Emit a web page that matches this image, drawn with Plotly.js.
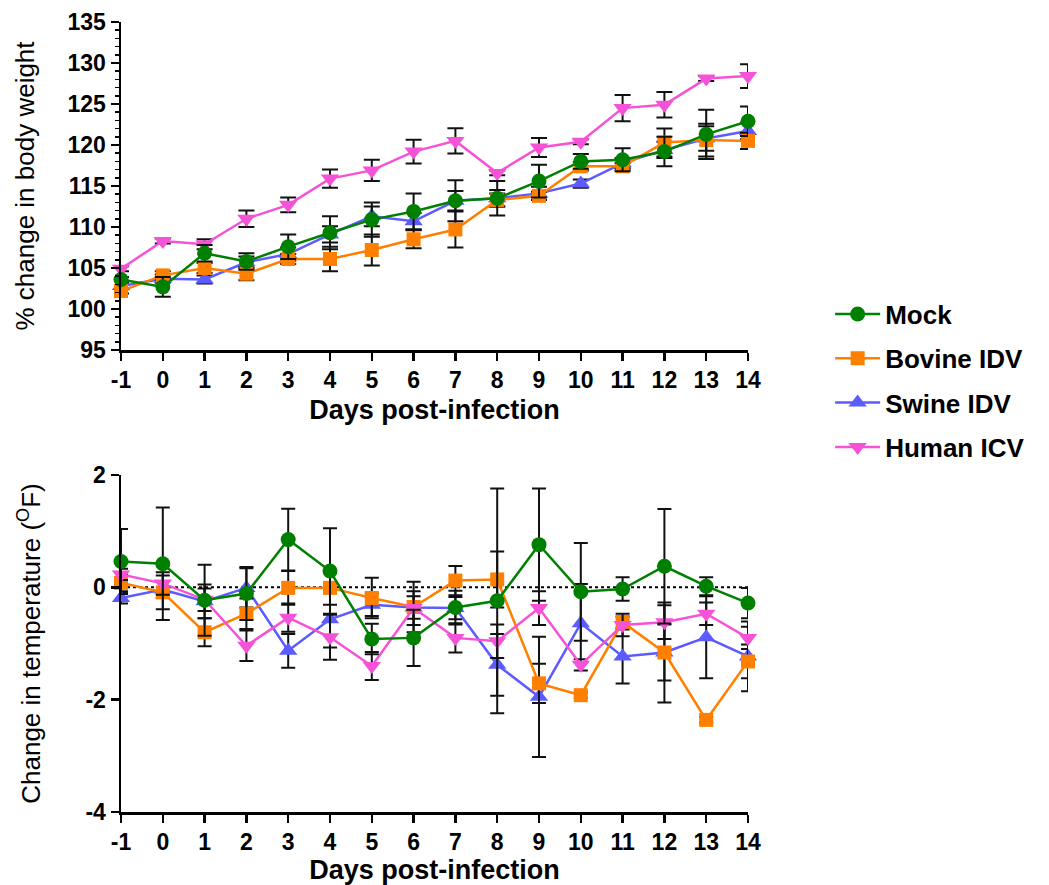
<!DOCTYPE html>
<html>
<head>
<meta charset="utf-8">
<script src="https://cdn.plot.ly/plotly-3.0.1.min.js"></script>
<style>html,body{margin:0;padding:0;background:#fff;}#chart{width:1049px;height:885px;}</style>
</head>
<body>
<div id="chart"></div>
<script>
// ---------- data ----------
const days = [-1, 0, 1, 2, 3, 4, 5, 6, 7, 8, 9, 10, 11, 12, 13, 14];
const seriesNames = ["Mock", "Bovine IDV", "Swine IDV", "Human ICV"];

// % change in body weight
const weightMock   = [103.6, 102.7, 106.8, 105.8, 107.6, 109.3, 110.9, 111.9, 113.2, 113.5, 115.6, 118.0, 118.2, 119.2, 121.3, 122.9];
const weightMockErr= [0.3, 1.2, 1.0, 1.0, 1.5, 2.0, 2.1, 2.2, 2.5, 2.1, 2.0, 0.9, 1.4, 1.8, 3.0, 1.8];
const weightBov    = [102.2, 104.1, 105.0, 104.3, 106.1, 106.1, 107.2, 108.5, 109.7, 113.3, 113.8, 117.4, 117.4, 120.3, 120.6, 120.5];
const weightBovErr = [0.3, 0.5, 0.6, 0.8, 0.6, 1.5, 1.9, 1.1, 2.2, 0.8, 0.5, 0.5, 0.4, 1.7, 2.0, 1.0];
const weightSw     = [102.8, 103.7, 103.6, 105.7, 106.7, 109.1, 111.3, 110.7, 113.2, 113.5, 114.1, 115.3, 117.8, 119.4, 120.8, 121.7];
const weightSwErr  = [0.4, 0.5, 0.5, 0.7, 0.8, 1.0, 1.2, 1.0, 1.2, 1.0, 0.8, 0.5, 0.6, 1.0, 1.5, 1.0];
const weightHum    = [104.9, 108.3, 107.9, 111.0, 112.7, 115.9, 116.9, 119.2, 120.5, 116.6, 119.7, 120.4, 124.5, 124.9, 128.1, 128.4];
const weightHumErr = [0.3, 0.3, 0.6, 1.0, 0.9, 1.1, 1.3, 1.45, 1.55, 0.3, 1.15, 0.3, 1.6, 1.55, 0.3, 1.45];

// change in temperature (F)
const tempMock   = [0.46, 0.42, -0.23, -0.11, 0.85, 0.29, -0.92, -0.90, -0.36, -0.24, 0.76, -0.08, -0.03, 0.375, 0.02, -0.28];
const tempMockErr= [0.58, 1.0, 0.63, 0.47, 0.55, 0.76, 0.27, 0.5, 0.3, 2.0, 1.0, 0.87, 0.21, 1.02, 0.16, 0.27];
const tempBov    = [0.08, -0.09, -0.80, -0.47, -0.01, -0.01, -0.19, -0.35, 0.12, 0.14, -1.71, -1.92, -0.62, -1.16, -2.36, -1.32];
const tempBovErr = [0.15, 0.3, 0.25, 0.27, 0.3, 0.3, 0.36, 0.45, 0.26, 0.5, 0.35, 0.05, 0.1, 0.89, 0.05, 0.3];
const tempSw     = [-0.19, -0.04, -0.25, -0.01, -1.13, -0.57, -0.31, -0.36, -0.37, -1.38, -1.95, -0.64, -1.23, -1.16, -0.89, -1.23];
const tempSwErr  = [0.1, 0.15, 0.3, 0.35, 0.3, 0.5, 0.2, 0.2, 0.2, 0.55, 1.07, 0.7, 0.48, 0.5, 0.73, 0.62];
const tempHum    = [0.23, 0.07, -0.22, -1.04, -0.54, -0.89, -1.40, -0.37, -0.90, -0.96, -0.37, -1.38, -0.67, -0.62, -0.47, -0.90];
const tempHumErr = [0.1, 0.2, 0.2, 0.27, 0.25, 0.4, 0.25, 0.3, 0.26, 0.3, 0.3, 0.1, 0.2, 0.3, 0.2, 0.2];

const xTickVals = days;
const weightTicks = [95, 100, 105, 110, 115, 120, 125, 130, 135];
const tempTicks = [-4, -2, 0, 2];

// ---------- styles ----------
const FONT = "Liberation Sans, Arial, Helvetica, sans-serif";
const colors = {Mock: "#008000", "Bovine IDV": "#ff8000", "Swine IDV": "#5b5bff", "Human ICV": "#f552d8"};
const symbols = {Mock: "circle", "Bovine IDV": "square", "Swine IDV": "triangle-up", "Human ICV": "triangle-down"};
const sizes = {Mock: 15, "Bovine IDV": 14, "Swine IDV": 16, "Human ICV": 16};
const rank = {Mock: 1, "Bovine IDV": 2, "Swine IDV": 3, "Human ICV": 4};

function mk(name, y, err, xa, ya, showlegend, capw) {
  return {
    type: "scatter", mode: "lines+markers", name: name,
    x: days, y: y, xaxis: xa, yaxis: ya,
    legendgroup: name, legendrank: rank[name], showlegend: showlegend,
    line: {color: colors[name], width: 2.5},
    marker: {color: colors[name], symbol: symbols[name], size: sizes[name]},
    error_y: {type: "data", array: err, visible: true, color: "#111", thickness: 2, width: capw},
    cliponaxis: false
  };
}

const drawOrder = [
  ["Swine IDV", weightSw, weightSwErr, tempSw, tempSwErr],
  ["Bovine IDV", weightBov, weightBovErr, tempBov, tempBovErr],
  ["Human ICV", weightHum, weightHumErr, tempHum, tempHumErr],
  ["Mock", weightMock, weightMockErr, tempMock, tempMockErr]
];
const data = [];
drawOrder.forEach(d => data.push(mk(d[0], d[1], d[2], "x", "y", true, 8)));
drawOrder.forEach(d => data.push(mk(d[0], d[3], d[4], "x2", "y2", false, 7)));

const tickFont = {family: FONT, size: 23, color: "#000", weight: 700};
const xTitleFont = {family: FONT, size: 27, color: "#000", weight: 700};
const yTitleFont = {family: FONT, size: 26, color: "#000", weight: 400};

function xAxis(anchor, standoff) {
  return {
    domain: [0, 1], anchor: anchor, range: [-1, 14],
    tickmode: "array", tickvals: xTickVals, ticktext: xTickVals.map(String),
    ticks: "outside", ticklen: 8, tickwidth: 2.5, tickcolor: "#000",
    showline: true, linewidth: 2.5, linecolor: "#000",
    showgrid: false, zeroline: false, tickfont: tickFont,
    title: {text: "Days post-infection", font: xTitleFont, standoff: standoff}
  };
}

const layout = {
  width: 1049, height: 885,
  margin: {l: 121, r: 301, t: 22, b: 73},
  paper_bgcolor: "#fff", plot_bgcolor: "#fff",
  font: {family: FONT, color: "#000"},
  xaxis: xAxis("y", 8),
  yaxis: {
    domain: [0.5848, 1], anchor: "x", range: [95, 135],
    tickmode: "array", tickvals: weightTicks, ticktext: weightTicks.map(String),
    ticks: "outside", ticklen: 8, tickwidth: 2.5, tickcolor: "#000",
    minor: {dtick: 1, ticks: "outside", ticklen: 4, tickwidth: 1.5, tickcolor: "#000", showgrid: false},
    showline: true, linewidth: 2.5, linecolor: "#000",
    showgrid: false, zeroline: false, tickfont: tickFont,
    title: {text: "% change in body weight", font: yTitleFont, standoff: 26}
  },
  xaxis2: xAxis("y2", 14),
  yaxis2: {
    domain: [0, 0.4266], anchor: "x2", range: [-4, 2],
    tickmode: "array", tickvals: tempTicks, ticktext: tempTicks.map(String),
    ticks: "outside", ticklen: 8, tickwidth: 2.5, tickcolor: "#000",
    showline: true, linewidth: 2.5, linecolor: "#000",
    showgrid: false, zeroline: false, tickfont: tickFont,
    title: {text: "Change in temperature (<sup>O</sup>F)", font: yTitleFont, standoff: 38}
  },
  shapes: [{
    type: "line", xref: "x2", yref: "y2", x0: -1, x1: 14, y0: 0, y1: 0,
    line: {color: "#000", width: 2, dash: "dot"}, layer: "below"
  }],
  showlegend: true,
  legend: {
    x: 1.131, y: 0.66, xanchor: "left", yanchor: "top",
    traceorder: "grouped", tracegroupgap: 7.5,
    font: {family: FONT, size: 26, color: "#000", weight: 700},
    bgcolor: "rgba(0,0,0,0)", itemwidth: 45
  }
};

Plotly.newPlot("chart", data, layout, {staticPlot: true, displayModeBar: false});
</script>
</body>
</html>
